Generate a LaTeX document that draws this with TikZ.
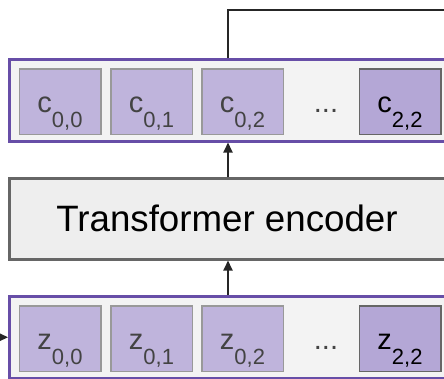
\documentclass[tikz,border=0pt]{standalone}
\usepackage{fontspec}
\setmainfont{Liberation Sans}
\usetikzlibrary{arrows.meta, positioning}
\definecolor{DPurple}{HTML}{674EA7}
\definecolor{LPurple}{HTML}{BFB4DC}
\definecolor{MPurple}{HTML}{B4A7D6}
\definecolor{BoxFill}{HTML}{F3F3F3}
\definecolor{EncFill}{HTML}{EEEEEE}
\definecolor{CellLine}{HTML}{999999}
\definecolor{DGray}{HTML}{666666}
\definecolor{TokText}{HTML}{434343}
\NewDocumentCommand{\Tok}{mm}{%
    {\fontsize{29}{30}\selectfont #1}\raisebox{-15pt}{\fontsize{22}{24}\selectfont #2}%
}
\tikzset{
    seqbox/.style={draw=DPurple, fill=BoxFill, line width=3pt, minimum width=446pt, minimum height=81.5pt, inner sep=0pt},
    encbox/.style={draw=DGray, fill=EncFill, line width=3pt, minimum width=446pt, minimum height=80.5pt, inner sep=0pt},
    cell/.style={draw=CellLine, fill=LPurple, line width=1.5pt, minimum width=81.5pt, minimum height=65.5pt, inner sep=0pt, text height=41pt, text depth=20pt, text=TokText},
    lastcell/.style={cell, draw=DGray, fill=MPurple, text=black},
    dotsnode/.style={anchor=base, inner sep=0pt, text=TokText, font=\fontsize{29}{30}\selectfont},
    link/.style={line width=2pt, draw=black!85},
    flow/.style={link, -{Triangle[length=10pt, width=9pt]}}
}

\begin{document}
\begin{tikzpicture}[x=1pt, y=-1pt]
\useasboundingbox (0,0) rectangle (444,378);

% output tokens
\node[seqbox] (topbox) at (232.5,100.25) {};
\node[cell] (c00) at (60,101.5) {\Tok{c}{0,0}};
\node[cell] (c01) at (151.5,101.5) {\Tok{c}{0,1}};
\node[cell] (c02) at (242.5,101.5) {\Tok{c}{0,2}};
\node[dotsnode] (dotstop) at (326,112.5) {...};
\node[lastcell] (c22) at (400,101.5) {\Tok{c}{2,2}};

% encoder
\node[encbox] (encoder) at (232.5,218.75) {};
\node[font=\fontsize{36.7}{40}\selectfont, inner sep=0pt] (enctext) at (227,218.75) {Transformer encoder};

% input tokens
\node[seqbox] (botbox) at (232.5,337.25) {};
\node[cell] (z00) at (60,338.5) {\Tok{z}{0,0}};
\node[cell] (z01) at (151.5,338.5) {\Tok{z}{0,1}};
\node[cell] (z02) at (242.5,338.5) {\Tok{z}{0,2}};
\node[dotsnode] (dotsbot) at (326,349.5) {...};
\node[lastcell] (z22) at (400,338.5) {\Tok{z}{2,2}};

\coordinate (axis) at (228,0);
\coordinate (in) at (-12,337.25);
\coordinate (out) at (470,10);

\draw[flow] (in) -- (botbox.west);
\draw[flow] (botbox.north -| axis) -- (encoder.south -| axis);
\draw[flow] (encoder.north -| axis) -- (topbox.south -| axis);
\draw[link] (topbox.north -| axis) |- (out);

\end{tikzpicture}
\end{document}
